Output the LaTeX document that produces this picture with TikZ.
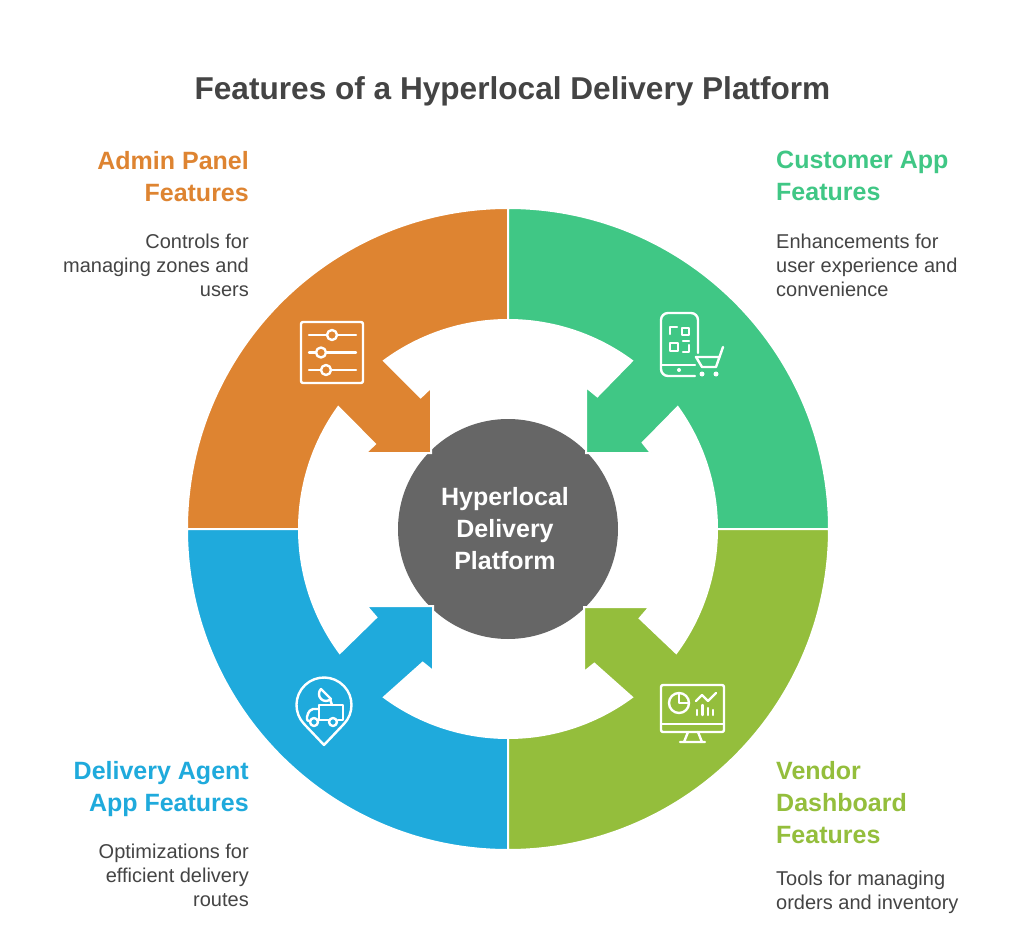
\documentclass[tikz,border=0pt]{standalone}
\usepackage{fontspec}
\setmainfont{Liberation Sans}
\usepackage{xcolor}
\definecolor{adminorange}{HTML}{DE8431}
\definecolor{customergreen}{HTML}{40C785}
\definecolor{agentblue}{HTML}{1FAADC}
\definecolor{vendorlime}{HTML}{94BE3C}
\definecolor{hubgray}{HTML}{666666}
\definecolor{textgray}{HTML}{444444}
\tikzset{
	segment/.style={draw=white,line width=2pt,line join=miter},
	icon/.style={draw=white,line width=2.4pt,line cap=round,line join=round},
	heading/.style={font=\bfseries\fontsize{25}{32}\selectfont,inner sep=0pt},
	blurb/.style={font=\fontsize{20}{24}\selectfont,text=textgray,inner sep=0pt},
}

\begin{document}
\begin{tikzpicture}[x=1pt,y=1pt]

	\useasboundingbox[fill=white] (-508,-416) rectangle (516,529);

	\node[font=\bfseries\fontsize{31.6}{38}\selectfont,text=textgray,inner sep=0pt] (title) at (4.5,438) {Features of a Hyperlocal Delivery Platform};

	\node[circle,fill=hubgray,minimum size=220pt,inner sep=0pt] (hub) at (0,0) {};
	\node[text=white,align=center,inner sep=0pt,font=\bfseries\fontsize{25}{32}\selectfont] (hublabel) at (-3,0) {Hyperlocal\\Delivery\\Platform};

	% segments
	\draw[segment,fill=adminorange] (90:321) arc[start angle=90,end angle=180,radius=321] -- (180:209) arc[start angle=180,end angle=144.3,radius=209] -- (-133,85) -- (-142.5,76) -- (-77,76) -- (-77,141.5) -- (-87.3,131.7) -- (126.4:209) arc[start angle=126.4,end angle=90,radius=209] -- cycle;
	\draw[segment,fill=customergreen] (90:321) arc[start angle=90,end angle=0,radius=321] -- (0:209) arc[start angle=0,end angle=35.7,radius=209] -- (134.7,86.3) -- (143,76) -- (78,76) -- (78,142) -- (89.3,132.7) -- (53.6:209) arc[start angle=53.6,end angle=90,radius=209] -- cycle;
	\draw[segment,fill=agentblue] (270:321) arc[start angle=270,end angle=180,radius=321] -- (180:209) arc[start angle=180,end angle=216.4,radius=209] -- (-131.7,-88.3) -- (-141.5,-77) -- (-75,-77) -- (-75,-142) -- (-85.3,-133.7) -- (233.6:209) arc[start angle=233.6,end angle=270,radius=209] -- cycle;
	\draw[segment,fill=vendorlime] (270:321) arc[start angle=270,end angle=360,radius=321] -- (360:209) arc[start angle=360,end angle=323.6,radius=209] -- (131.7,-89.3) -- (141.5,-78) -- (76,-78) -- (76,-143) -- (86.3,-134.7) -- (306.4:209) arc[start angle=306.4,end angle=270,radius=209] -- cycle;

	% labels
	\node[heading,text=adminorange,anchor=north east,align=right] (admin) at (-259,378) {Admin Panel\\Features};
	\node[blurb,anchor=north east,align=right] (admintext) at (-259,295) {Controls for\\managing zones and\\users};
	\node[heading,text=customergreen,anchor=north west,align=left] (customer) at (268,378) {Customer App\\Features};
	\node[blurb,anchor=north west,align=left] (customertext) at (268,295) {Enhancements for\\user experience and\\convenience};
	\node[heading,text=agentblue,anchor=north east,align=right] (agent) at (-259,-232) {Delivery Agent\\App Features};
	\node[blurb,anchor=north east,align=right] (agenttext) at (-259,-315) {Optimizations for\\efficient delivery\\routes};
	\node[heading,text=vendorlime,anchor=north west,align=left] (vendor) at (268,-232) {Vendor\\Dashboard\\Features};
	\node[blurb,anchor=north west,align=left] (vendortext) at (268,-342) {Tools for managing\\orders and inventory};

	% admin icon
	\draw[icon,rounded corners=2pt] (-207,207) rectangle (-145,146);
	\foreach \y/\k in {194/-176,176.5/-187,159/-182} {
		\draw[icon] (-199,\y) -- (-152,\y);
		\draw[icon,fill=adminorange] (\k,\y) circle (5);
	}

	% customer icon
	\draw[icon,rounded corners=7pt] (190,176) -- (190,216) -- (153,216) -- (153,153) -- (187,153);
	\draw[icon] (153,164) -- (187,164);
	\fill[white] (171,159) circle (2);
	\draw[icon] (174,194) rectangle (181,201);
	\draw[icon] (162,178) rectangle (170,186);
	\draw[icon] (162,195) -- (162,202) -- (169,202);
	\draw[icon] (175,188) -- (181,188);
	\draw[icon] (175,177) -- (181,177) -- (181,184);
	\draw[icon] (215,182) -- (208,162) -- (194,162) -- (188,172) -- (211,172);
	\fill[white] (194,155) circle (2.5) (208,155) circle (2.5);

	% agent icon
	\draw[icon] (-184,-216) -- ([shift={(-184,-176)}]-136.6:27.5) arc[start angle=-136.6,end angle=-403.4,radius=27.5] -- cycle;
	\draw[icon] (-189,-176) -- (-165,-176) -- (-165,-191) -- (-170,-191) (-179,-191) -- (-190,-191) (-189,-191) -- (-189,-176);
	\draw[icon,rounded corners=2pt] (-189,-180) -- (-197,-180) -- (-201,-186) -- (-201,-192) -- (-198,-192);
	\draw[icon] (-194,-193) circle (4) (-175,-193) circle (4);
	\draw[icon] (-187,-160) arc[start angle=135,end angle=315,radius=7] -- cycle;
	\draw[icon] (-178,-170) -- (-176,-176);

	% vendor icon
	\draw[icon,rounded corners=2pt] (153,-156) rectangle (216,-203);
	\draw[icon] (153,-195) -- (216,-195);
	\draw[icon] (180,-203) -- (176,-213) (190,-203) -- (194,-213) (172,-213) -- (197,-213);
	\draw[icon] (171,-174) circle (10);
	\draw[icon] (171,-164) -- (171,-174) -- (181,-174);
	\draw[icon] (188,-172) -- (194,-166) -- (200,-172) -- (208,-164);
	\foreach \x/\h in {189/-181,194.5/-176,200/-179,205/-181}
		\draw[icon] (\x,\h) -- (\x,-186);

\end{tikzpicture}
\end{document}
